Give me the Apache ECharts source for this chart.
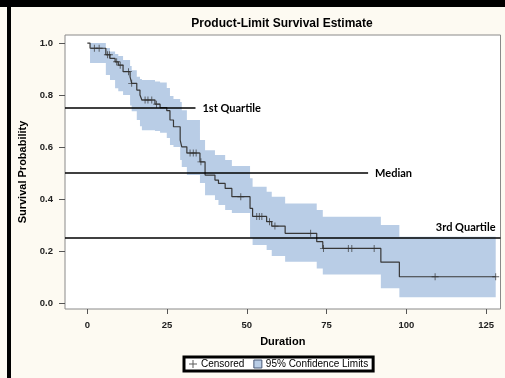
<!DOCTYPE html>
<html>
<head>
<meta charset="utf-8">
<script src="https://cdn.jsdelivr.net/npm/echarts@6/dist/echarts.min.js"></script>
<style>
  html, body { margin: 0; padding: 0; background: #fdfaf2; }
  #chart { width: 505px; height: 378px; }
</style>
</head>
<body>
<div id="chart"></div>
<script>
// Product-limit (Kaplan-Meier) estimate: each interval starts at stepTimes[i]
const stepTimes = [0, 0.85, 5.8, 7.1, 8.7, 9.7, 11.2, 13.4, 13.9, 15.5, 16.5, 17.1, 21.2, 22.8, 24.9, 25.9, 27.0, 29.1, 29.6, 31.2, 35.3, 36.9, 40.0, 41.1, 43.2, 45.3, 51.0, 51.8, 56.2, 57.8, 62.0, 71.9, 73.8, 92.0, 97.8];
const survival  = [1.000, 0.980, 0.955, 0.941, 0.928, 0.915, 0.890, 0.870, 0.845, 0.819, 0.800, 0.781, 0.765, 0.752, 0.740, 0.704, 0.678, 0.627, 0.601, 0.577, 0.543, 0.492, 0.473, 0.460, 0.441, 0.409, 0.364, 0.333, 0.313, 0.296, 0.268, 0.236, 0.210, 0.157, 0.101];
// 95% confidence limits over the same intervals
const ciUpper   = [1.000, 1.000, 0.981, 0.968, 0.958, 0.950, 0.935, 0.912, 0.895, 0.870, 0.862, 0.858, 0.852, 0.848, 0.827, 0.796, 0.785, 0.773, 0.742, 0.704, 0.627, 0.588, 0.569, 0.569, 0.550, 0.527, 0.480, 0.447, 0.428, 0.409, 0.383, 0.358, 0.332, 0.300, 0.255];
const ciLower   = [1.000, 0.923, 0.877, 0.858, 0.826, 0.815, 0.800, 0.760, 0.738, 0.704, 0.680, 0.665, 0.662, 0.655, 0.635, 0.608, 0.600, 0.550, 0.523, 0.492, 0.462, 0.415, 0.396, 0.377, 0.358, 0.346, 0.250, 0.223, 0.204, 0.181, 0.159, 0.133, 0.110, 0.057, 0.022];
const lastTime = 128;
// censored observation times
const censorTimes = [2.2, 3.7, 6.3, 6.9, 9.2, 10.3, 12.9, 13.9, 18.1, 19.0, 20.2, 21.7, 32.2, 33.2, 34.1, 35.6, 48.1, 53.1, 53.9, 54.7, 57.1, 58.8, 70.0, 74.0, 81.8, 82.9, 89.9, 109.0, 128.0];
const xTicks = [0, 25, 50, 75, 100, 125];
const yTicks = [0, 0.2, 0.4, 0.6, 0.8, 1.0];
const quartileNames = ['1st Quartile', 'Median', '3rd Quartile'];
const quartileLevels = [0.75, 0.5, 0.25];

const X_MIN = -7, X_MAX = 129.5;
const Y_MIN = -0.023, Y_MAX = 1.031;

function survivalAt(t) {
  let s = survival[0];
  for (let i = 0; i < stepTimes.length; i++) {
    if (stepTimes[i] <= t) s = survival[i];
  }
  return s;
}

const kmData = stepTimes.map((t, i) => [t, survival[i]]);
kmData.push([lastTime, survival[survival.length - 1]]);
const censorData = censorTimes.map(t => [t, survivalAt(t)]);

const plusPath = 'path://M3.5,0 L4.5,0 L4.5,3.5 L8,3.5 L8,4.5 L4.5,4.5 L4.5,8 L3.5,8 L3.5,4.5 L0,4.5 L0,3.5 L3.5,3.5 Z';
const bandColor = '#b9cde6';
const labelFont = { fontFamily: 'Lato', fontWeight: 'bold', fontSize: 11, color: '#000' };

function renderBand(params, api) {
  const pts = [];
  const n = stepTimes.length;
  for (let i = 0; i < n; i++) {
    const t0 = stepTimes[i];
    const t1 = i + 1 < n ? stepTimes[i + 1] : lastTime;
    pts.push(api.coord([t0, ciUpper[i]]));
    pts.push(api.coord([t1, ciUpper[i]]));
  }
  for (let i = n - 1; i >= 0; i--) {
    const t0 = stepTimes[i];
    const t1 = i + 1 < n ? stepTimes[i + 1] : lastTime;
    pts.push(api.coord([t1, ciLower[i]]));
    pts.push(api.coord([t0, ciLower[i]]));
  }
  return { type: 'polygon', shape: { points: pts }, style: { fill: bandColor, stroke: null } };
}

const chart = echarts.init(document.getElementById('chart'), null, { renderer: 'canvas' });
chart.setOption({
  animation: false,
  backgroundColor: '#fdfaf2',
  textStyle: { fontFamily: 'Liberation Sans' },
  title: {
    text: 'Product-Limit Survival Estimate',
    left: 282, top: 18, textAlign: 'center', padding: 0,
    textStyle: { fontFamily: 'Liberation Sans', fontWeight: 'bold', fontSize: 12, color: '#000' }
  },
  graphic: [
    { type: 'rect', shape: { x: 0, y: 0, width: 505, height: 7 }, style: { fill: '#000' }, silent: true },
    { type: 'rect', shape: { x: 7, y: 0, width: 4, height: 378 }, style: { fill: '#000' }, silent: true }
  ],
  grid: {
    left: 65, right: 4.5, top: 35, bottom: 69,
    show: true, backgroundColor: '#fff', borderColor: '#8a8a8a', borderWidth: 1
  },
  xAxis: {
    type: 'value', min: X_MIN, max: X_MAX,
    axisLine: { show: false, onZero: false },
    splitLine: { show: false },
    axisTick: { show: true, customValues: xTicks, length: 5, lineStyle: { color: '#555' } },
    axisLabel: { customValues: xTicks, fontWeight: 'bold', fontSize: 9.5, color: '#222', margin: 11 },
    name: 'Duration', nameLocation: 'middle', nameGap: 33,
    nameTextStyle: { fontWeight: 'bold', fontSize: 11, color: '#000', verticalAlign: 'middle' }
  },
  yAxis: {
    type: 'value', min: Y_MIN, max: Y_MAX,
    axisLine: { show: false, onZero: false },
    splitLine: { show: false },
    axisTick: { show: true, customValues: yTicks, length: 6, lineStyle: { color: '#555' } },
    axisLabel: { customValues: yTicks, fontWeight: 'bold', fontSize: 9.5, color: '#222', margin: 12,
      formatter: v => v.toFixed(1) },
    name: 'Survival Probability', nameLocation: 'middle', nameGap: 37, nameRotate: 90,
    nameTextStyle: { fontWeight: 'bold', fontSize: 11, color: '#000', verticalAlign: 'middle' }
  },
  legend: {
    left: 184, top: 357, padding: [2, 5],
    borderColor: '#000', borderWidth: 3, backgroundColor: '#fff',
    itemWidth: 8, itemHeight: 8, itemGap: 9,
    textStyle: { fontSize: 10, color: '#000', fontFamily: 'Liberation Sans', padding: [0, 0, 0, -1] },
    data: [
      { name: 'Censored', icon: plusPath, itemStyle: { color: '#333' } },
      { name: '95% Confidence Limits', icon: 'rect', itemStyle: { color: bandColor, borderColor: '#4a5a78', borderWidth: 1 } }
    ]
  },
  series: [
    {
      name: '95% Confidence Limits', type: 'custom', renderItem: renderBand,
      data: [[0, 0]], itemStyle: { color: bandColor }, z: 1, silent: true
    },
    {
      name: 'Survival', type: 'line', step: 'end', data: kmData,
      showSymbol: false, symbol: 'none', z: 3, silent: true,
      lineStyle: { color: '#383838', width: 1.2 },
      markLine: {
        silent: true, animation: false, symbol: ['none', 'none'],
        lineStyle: { color: '#000', width: 1.5, type: 'solid' },
        label: Object.assign({ position: 'end', distance: 7, formatter: '{b}' }, labelFont),
        emphasis: { disabled: true },
        data: [
          [{ name: quartileNames[0], coord: [X_MIN, quartileLevels[0]] }, { coord: [33.9, quartileLevels[0]] }],
          [{ name: quartileNames[1], coord: [X_MIN, quartileLevels[1]] }, { coord: [88.0, quartileLevels[1]] }],
          [{ name: quartileNames[2], coord: [X_MIN, quartileLevels[2]],
             label: Object.assign({ position: 'insideEndTop', distance: 5, formatter: '{b}' }, labelFont) },
           { coord: [X_MAX, quartileLevels[2]] }]
        ]
      }
    },
    {
      name: 'Censored', type: 'scatter', data: censorData, z: 4, silent: true,
      symbol: plusPath, symbolSize: 7,
      itemStyle: { color: '#333' }
    }
  ]
});
</script>
</body>
</html>
